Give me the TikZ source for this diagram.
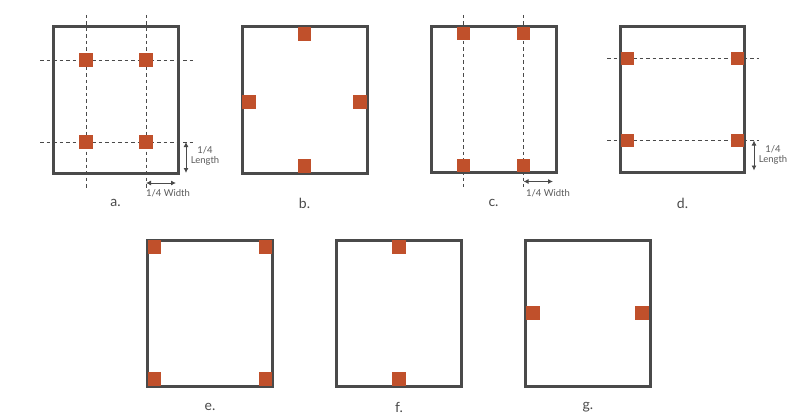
\documentclass[tikz,border=0pt]{standalone}
\usepackage{fontspec}
\setmainfont{Lato}
\usetikzlibrary{arrows.meta,positioning}
\definecolor{frameGray}{HTML}{4A4A4A}
\definecolor{padRed}{HTML}{C0502B}
\definecolor{textGray}{HTML}{5A5A5A}

\tikzset{
  frame/.style={draw=frameGray, line width=3pt},
  pad/.style={fill=padRed, inner sep=0pt, minimum size=13.5pt},
  guide/.style={draw=frameGray, line width=0.8pt, dash pattern=on 3.5pt off 3pt},
  dim/.style={draw=frameGray, line width=0.9pt, {Latex[length=5pt,width=5pt]}-{Latex[length=5pt,width=5pt]}},
  dimtext/.style={text=textGray, font=\fontsize{9.5}{10.5}\selectfont, align=center, inner sep=0pt},
  caption/.style={text=frameGray, font=\fontsize{14}{15}\selectfont, inner sep=0pt}
}

\begin{document}
\begin{tikzpicture}[x=1pt,y=-1pt]
\useasboundingbox (0,0) rectangle (808,417);

% a. pads on the quarter lines
\draw[guide] (86,15) -- (86,190);
\draw[guide] (146,15) -- (146,190);
\draw[guide] (40,60) -- (193,60);
\draw[guide] (40,142) -- (193,142);
\draw[frame] (53,27) rectangle (178,173);
\node[pad] (a1) at (86,60) {};
\node[pad] (a2) at (146,60) {};
\node[pad] (a3) at (86,142) {};
\node[pad] (a4) at (146,142) {};
\coordinate (aL1) at (186,142);
\coordinate (aL2) at (186,173);
\draw[dim] (aL1) -- (aL2);
\node[dimtext] (aLt) at (205,156) {1/4\\Length};
\coordinate (aW1) at (146,183);
\coordinate (aW2) at (176,183);
\draw[dim] (aW1) -- (aW2);
\node[dimtext] (aWt) at (168,193.5) {1/4 Width};
\node[caption] (la) at (115.5,203) {a.};

% b. pads at the middles of the sides
\draw[frame] (242,27) rectangle (367,173);
\node[pad] (b1) at (304.5,34) {};
\node[pad] (b2) at (249,102) {};
\node[pad] (b3) at (360,102) {};
\node[pad] (b4) at (304.5,166) {};
\node[caption] (lb) at (304.5,203) {b.};

% c. pads on the quarter width lines
\draw[guide] (463.5,15) -- (463.5,187);
\draw[guide] (523.5,15) -- (523.5,187);
\draw[frame] (431.5,27) rectangle (556,172.5);
\node[pad] (c1) at (463.5,33.5) {};
\node[pad] (c2) at (523.5,33.5) {};
\node[pad] (c3) at (463.5,165.5) {};
\node[pad] (c4) at (523.5,165.5) {};
\coordinate (cW1) at (523.5,181.5);
\coordinate (cW2) at (553,181.5);
\draw[dim] (cW1) -- (cW2);
\node[dimtext] (cWt) at (548,193.5) {1/4 Width};
\node[caption] (lc) at (493.5,203) {c.};

% d. pads on the quarter length lines
\draw[guide] (607,58.5) -- (759,58.5);
\draw[guide] (607,140.5) -- (759,140.5);
\draw[frame] (620.5,27) rectangle (744.5,172.5);
\node[pad] (d1) at (627.5,58.5) {};
\node[pad] (d2) at (737.5,58.5) {};
\node[pad] (d3) at (627.5,140.5) {};
\node[pad] (d4) at (737.5,140.5) {};
\coordinate (dL1) at (754,140.5);
\coordinate (dL2) at (754,170.5);
\draw[dim] (dL1) -- (dL2);
\node[dimtext] (dLt) at (773,155) {1/4\\Length};
\node[caption] (ld) at (682.5,203) {d.};

% e. pads in the corners
\draw[frame] (147.5,240) rectangle (272.5,386);
\node[pad] (e1) at (154.5,247) {};
\node[pad] (e2) at (265.5,247) {};
\node[pad] (e3) at (154.5,379) {};
\node[pad] (e4) at (265.5,379) {};
\node[caption] (le) at (210,407) {e.};

% f. pads at top and bottom
\draw[frame] (336.5,240) rectangle (461.5,386);
\node[pad] (f1) at (399,247) {};
\node[pad] (f2) at (399,379) {};
\node[caption] (lf) at (399,407) {f.};

% g. pads at left and right
\draw[frame] (525.5,240) rectangle (650,386);
\node[pad] (g1) at (533,313) {};
\node[pad] (g2) at (642,313) {};
\node[caption] (lg) at (588,407) {g.};
\end{tikzpicture}
\end{document}
